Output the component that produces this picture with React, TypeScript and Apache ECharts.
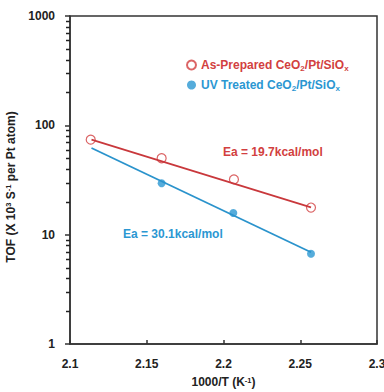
import React, { useEffect, useRef } from "react";
import * as echarts from "echarts";

const invT = [2.1135, 2.1597, 2.2068, 2.257];
const asPrepared = [74, 50, 32, 17.7];
const uvX = [2.1597, 2.2064, 2.257];
const uvTreated = [29.5, 15.8, 6.7];
const fitX = [2.114, 2.257];
const asPreparedFit = [74, 17.8];
const uvTreatedFit = [62, 6.9];
const yMinor = [2, 3, 4, 5, 6, 7, 8, 9, 20, 30, 40, 50, 60, 70, 80, 90, 200, 300, 400, 500, 600, 700, 800, 900];
const xTicks = ["2.1", "2.15", "2.2", "2.25", "2.3"];
const yTicks = ["1", "10", "100", "1000"];

const RED = "#d23f40";
const BLUE = "#2b97d2";
const AXIS = "#333";
const FONT = "'Liberation Sans', Arial, sans-serif";

export default function App() {
  const ref = useRef<HTMLDivElement>(null);
  useEffect(() => {
    const chart = echarts.init(ref.current!, undefined, { renderer: "svg" });
    chart.setOption({
      animation: false,
      textStyle: { fontFamily: FONT },
      grid: {
        left: 70, top: 16, right: 7, bottom: 48,
        containLabel: false, outerBoundsMode: "none",
        show: true, borderColor: AXIS, borderWidth: 1.5, backgroundColor: "transparent",
      },
      xAxis: {
        type: "value", min: 2.1, max: 2.3, interval: 0.05,
        axisLine: { show: true, lineStyle: { color: AXIS, width: 1.5 } },
        axisTick: { show: true, inside: true, length: 4, lineStyle: { color: AXIS, width: 1.5 } },
        splitLine: { show: false },
        axisLabel: {
          color: "#222", fontWeight: "bold", fontSize: 12, margin: 14, fontFamily: FONT,
          formatter: (v: number) => xTicks.find((t) => Math.abs(parseFloat(t) - v) < 1e-6) ?? "",
        },
        name: "{t|1000/T (K}{s|-1}{t|)}",
        nameLocation: "middle",
        nameGap: 32,
        nameTextStyle: {
          rich: {
            t: { fontSize: 12, fontWeight: "bold", color: "#222", fontFamily: FONT, lineHeight: 12 },
            s: { fontSize: 7.5, fontWeight: "bold", color: "#222", fontFamily: FONT, verticalAlign: "top", lineHeight: 12 },
          },
        },
      },
      yAxis: {
        type: "log", logBase: 10, min: 1, max: 1000,
        axisLine: { show: true, lineStyle: { color: AXIS, width: 1.5 } },
        axisTick: { show: true, inside: false, length: 5, lineStyle: { color: AXIS, width: 1.5 } },
        splitLine: { show: false },
        axisLabel: {
          color: "#222", fontWeight: "bold", fontSize: 12, margin: 15, fontFamily: FONT,
          formatter: (v: number) => yTicks.find((t) => Math.abs(parseFloat(t) - v) < 1e-6) ?? String(Math.round(v)),
        },
        name: "{t|TOF (X 10}{s|3}{t| S}{s|-1}{t| per Pt atom)}",
        nameLocation: "middle",
        nameRotate: 90,
        nameGap: 39,
        nameTextStyle: {
          padding: [0, 14, 0, 0],
          rich: {
            t: { fontSize: 12, fontWeight: "bold", color: "#222", fontFamily: FONT, lineHeight: 14 },
            s: { fontSize: 7.5, fontWeight: "bold", color: "#222", fontFamily: FONT, verticalAlign: "top", lineHeight: 14 },
          },
        },
      },
      legend: {
        orient: "vertical", left: 181, top: 54,
        itemWidth: 9, itemHeight: 9, itemGap: 7,
        data: ["As-Prepared", "UV Treated"],
        formatter: (name: string) =>
          name === "As-Prepared"
            ? "{r|As-Prepared CeO}{rs|2}{r|/Pt/SiO}{rs|x}"
            : "{b|UV Treated CeO}{bs|2}{b|/Pt/SiO}{bs|x}",
        textStyle: {
          rich: {
            r: { color: RED, fontWeight: "bold", fontSize: 12, fontFamily: FONT, lineHeight: 14 },
            rs: { color: RED, fontWeight: "bold", fontSize: 8, fontFamily: FONT, verticalAlign: "bottom", lineHeight: 14 },
            b: { color: BLUE, fontWeight: "bold", fontSize: 12, fontFamily: FONT, lineHeight: 14 },
            bs: { color: BLUE, fontWeight: "bold", fontSize: 8, fontFamily: FONT, verticalAlign: "bottom", lineHeight: 14 },
          },
        },
      },
      graphic: [
        { type: "text", left: 223, top: 146, style: { text: "Ea = 19.7kcal/mol", fill: RED, font: `bold 12px ${FONT}` } },
        { type: "text", left: 123, top: 228, style: { text: "Ea = 30.1kcal/mol", fill: BLUE, font: `bold 12px ${FONT}` } },
      ],
      series: [
        {
          type: "line", name: "asFit", data: fitX.map((x, i) => [x, asPreparedFit[i]]),
          symbol: "none", lineStyle: { color: "#c9383c", width: 1.8 }, silent: true,
        },
        {
          type: "line", name: "uvFit", data: fitX.map((x, i) => [x, uvTreatedFit[i]]),
          symbol: "none", lineStyle: { color: "#2a93cc", width: 1.8 }, silent: true,
        },
        {
          type: "scatter", name: "As-Prepared", data: invT.map((x, i) => [x, asPrepared[i]]),
          symbol: "circle", symbolSize: 9,
          itemStyle: { color: "#fff", borderColor: RED, borderWidth: 1.2 },
        },
        {
          type: "scatter", name: "UV Treated", data: uvX.map((x, i) => [x, uvTreated[i]]),
          symbol: "circle", symbolSize: 8,
          itemStyle: { color: BLUE },
        },
        {
          type: "custom", name: "minorTicks", clip: false, silent: true, z: 10,
          data: yMinor.map((v) => [2.1, v]),
          encode: { x: 0, y: 1 },
          renderItem: (params: any, api: any) => {
            const p = api.coord([api.value(0), api.value(1)]);
            return {
              type: "line",
              shape: { x1: p[0] - 4, y1: Math.round(p[1]) + 0.5, x2: p[0], y2: Math.round(p[1]) + 0.5 },
              style: { stroke: "#222", lineWidth: 1.5 },
            };
          },
        },
      ],
    });
    return () => chart.dispose();
  }, []);
  return <div ref={ref} style={{ width: 384, height: 392, position: "absolute", left: 0, top: 0 }} />;
}
